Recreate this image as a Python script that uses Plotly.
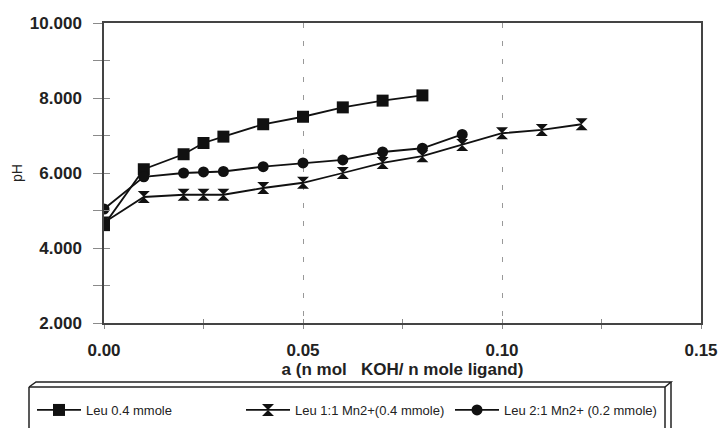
import plotly.graph_objects as go

# ---- data ----
x_leu = [0.0, 0.01, 0.02, 0.025, 0.03, 0.04, 0.05, 0.06, 0.07, 0.08]
ph_leu = [4.61, 6.10, 6.50, 6.80, 6.97, 7.30, 7.50, 7.75, 7.93, 8.07]

x_11 = [0.0, 0.01, 0.02, 0.025, 0.03, 0.04, 0.05, 0.06, 0.07, 0.08, 0.09, 0.10, 0.11, 0.12]
ph_11 = [4.68, 5.36, 5.42, 5.42, 5.42, 5.60, 5.74, 6.00, 6.27, 6.45, 6.75, 7.06, 7.15, 7.30]

x_21 = [0.0, 0.01, 0.02, 0.025, 0.03, 0.04, 0.05, 0.06, 0.07, 0.08, 0.09]
ph_21 = [5.04, 5.90, 6.00, 6.03, 6.04, 6.17, 6.27, 6.35, 6.56, 6.66, 7.03]

names = ["Leu 0.4 mmole", "Leu 1:1 Mn2+(0.4 mmole)", "Leu 2:1 Mn2+ (0.2 mmole)"]
x_title = "a (n mol   KOH/ n mole ligand)"
y_title = "pH"

W, H = 718, 428
L, R, T, B = 104, 17, 23, 105
PW, PH = W - L - R, H - T - B


def px(x):
    return (x - L) / PW


def py(y):
    return (H - B - y) / PH


INK = "#111111"
TICK = "#8a8a8a"
fig = go.Figure()
fig.add_trace(go.Scatter(x=x_leu, y=ph_leu, name=names[0], mode="lines+markers",
                         line=dict(color=INK, width=1.8),
                         marker=dict(symbol="square", size=12, color=INK)))
fig.add_trace(go.Scatter(x=x_11, y=ph_11, name=names[1], mode="lines+markers",
                         line=dict(color=INK, width=1.8),
                         marker=dict(symbol="hourglass", size=12, color=INK)))
fig.add_trace(go.Scatter(x=x_21, y=ph_21, name=names[2], mode="lines+markers",
                         line=dict(color=INK, width=1.8),
                         marker=dict(symbol="circle", size=11, color=INK)))
# empty helper trace for the overlay axes (inside half of the crossing ticks)
fig.add_trace(go.Scatter(x=[], y=[], xaxis="x2", yaxis="y2", showlegend=False, hoverinfo="skip"))

tickfont = dict(family="Liberation Sans, Arial, sans-serif", size=17, color="#222222", weight="bold")

fig.update_layout(
    template="none",
    width=W, height=H,
    margin=dict(l=L, r=R, t=T, b=B, autoexpand=False),
    paper_bgcolor="white", plot_bgcolor="white",
    font=dict(family="Liberation Sans, Arial, sans-serif", color="#222222"),
    xaxis=dict(range=[0, 0.15], dtick=0.05, tickformat=".2f", automargin=False,
               ticks="outside", ticklen=4, tickcolor=TICK, tickwidth=1,
               minor=dict(dtick=0.025, ticks="outside", ticklen=4, tickcolor=TICK, showgrid=False),
               showgrid=True, gridcolor="#999999", griddash="5px,13px", gridwidth=1,
               showline=True, linecolor="#444444", linewidth=1.5, mirror=True,
               zeroline=False, tickfont=tickfont, ticklabelstandoff=7,
               title=dict(text="<b>" + x_title + "</b>", font=dict(size=17, color="#222222"), standoff=2)),
    yaxis=dict(range=[2, 10], dtick=2, tickformat=".3f", automargin=False,
               ticks="outside", ticklen=9, tickcolor=TICK, tickwidth=1,
               minor=dict(dtick=1, ticks="outside", ticklen=9, tickcolor=TICK, showgrid=False),
               showgrid=False, showline=True, linecolor="#444444", linewidth=1.5, mirror=True,
               zeroline=False, tickfont=tickfont, ticklabelstandoff=8,
               title=dict(text=y_title, font=dict(size=14, color="#222222"), standoff=4)),
    xaxis2=dict(range=[0, 0.15], overlaying="x", dtick=0.025, ticks="inside", ticklen=4, automargin=False,
                tickcolor=TICK, showticklabels=False, showgrid=False, showline=False, zeroline=False),
    yaxis2=dict(range=[2, 10], overlaying="y", dtick=1, ticks="inside", ticklen=6, automargin=False,
                tickcolor=TICK, showticklabels=False, showgrid=False, showline=False, zeroline=False),
    showlegend=True,
    legend=dict(orientation="h", x=px(32), xanchor="left", y=py(410), yanchor="middle",
                font=dict(size=13, color="#222222"), itemwidth=44,
                entrywidth=150, entrywidthmode="pixels", bgcolor="rgba(0,0,0,0)"),
)

# 3D-style legend frame
lc = dict(color="#222222", width=1.5)
x0, x1, xb = px(29), px(665), px(671)
yt, ytb, ybot = py(387), py(382), py(440)
fig.add_shape(type="line", xref="paper", yref="paper", x0=x0, x1=x1, y0=yt, y1=yt, line=lc)
fig.add_shape(type="line", xref="paper", yref="paper", x0=x0, x1=x0, y0=yt, y1=ybot, line=lc)
fig.add_shape(type="line", xref="paper", yref="paper", x0=x1, x1=x1, y0=yt, y1=ybot, line=lc)
fig.add_shape(type="path", xref="paper", yref="paper",
              path=f"M{x0},{yt} L{px(36)},{ytb} L{xb},{ytb} L{x1},{yt}", line=lc)
fig.add_shape(type="line", xref="paper", yref="paper", x0=xb, x1=xb, y0=ytb, y1=ybot, line=lc)

fig.write_html("out.html")
